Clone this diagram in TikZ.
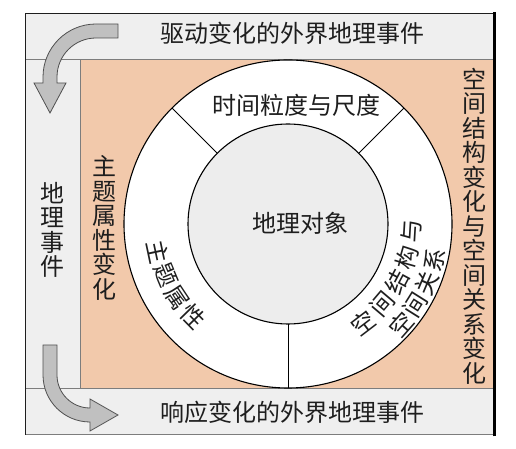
\documentclass[tikz,border=0pt]{standalone}
\usepackage{fontspec}
\setmainfont{Noto Sans CJK SC}
\usepackage{xcolor}
\usepackage{tikz}
\usetikzlibrary{calc}
\definecolor{bandGray}{RGB}{239,239,239}
\definecolor{coreGray}{RGB}{237,237,237}
\definecolor{ringPeach}{RGB}{242,201,171}
\definecolor{lineGray}{RGB}{125,125,125}
\definecolor{arrowGray}{RGB}{192,192,192}
\definecolor{arrowLine}{RGB}{80,80,80}
\definecolor{inkDark}{RGB}{30,30,30}

\tikzset{
  lbl/.style={text=inkDark, font=\fontsize{24}{24.5}\selectfont, inner sep=0pt},
  vlbl/.style={lbl, align=center},
  ringlbl/.style={text=inkDark, font=\fontsize{23.5}{23.5}\selectfont, inner sep=0pt},
  fatarrow/.style={fill=arrowGray, draw=arrowLine, line width=0.8pt},
}

\begin{document}
\begin{tikzpicture}[x=1pt,y=1pt]
\useasboundingbox (0,0) rectangle (516,449);

% frame, bands and peach field
\fill[bandGray] (25,14) rectangle (494,435);
\fill[ringPeach] (80,60) rectangle (494,389);
\draw[lineGray, line width=1pt] (25,389) -- (494,389);
\draw[lineGray, line width=1pt] (25,60) -- (494,60);
\draw[lineGray, line width=1pt] (80,60) -- (80,389);
\draw[lineGray, line width=1pt] (25,14) -- (494,14);
\draw[inkDark, line width=1pt] (25,14) -- (25,435) -- (494,435);
\draw[black, line width=3pt] (494,12.5) -- (494,436.5);

% ring and core
\coordinate (ctr) at (288,225);
\fill[white] (ctr) circle (164);
\draw[black, line width=1.1pt] (ctr) circle (164);
\foreach \a in {45,135,270}{
  \draw[black, line width=0.8pt] ($(ctr)+(\a:100)$) -- ($(ctr)+(\a:164)$);
}
\fill[coreGray] (ctr) circle (100);
\draw[black, line width=1.1pt] (ctr) circle (100);

% band texts
\node[lbl] (drive) at (292,416) {驱动变化的外界地理事件};
\node[lbl] (resp) at (292,37) {响应变化的外界地理事件};
\node[vlbl] (event) at (52,219) {地\\理\\事\\件};
\node[vlbl] (attrchg) at (104,221) {主\\题\\属\\性\\变\\化};
\node[vlbl] (spacechg) at (474,223) {空\\间\\结\\构\\变\\化\\与\\空\\间\\关\\系\\变\\化};

% ring texts
\node[lbl] (scale) at (296,344) {时间粒度与尺度};
\node[lbl] (obj) at (300,226) {地理对象};
\foreach \ch [count=\i from 0] in {主,题,属,性}{
  \pgfmathsetmacro\ang{192+10.8*\i}
  \node[ringlbl, rotate=\ang+90] (attr\i) at ($(ctr)+(\ang:133)$) {\ch};
}
\foreach \ch [count=\i from 0] in {空,间,结,构,与}{
  \pgfmathsetmacro\ang{-52.6+12.3*\i}
  \node[ringlbl, rotate=\ang+90] (strc\i) at ($(ctr)+(\ang:124)$) {\ch};
}
\foreach \ch [count=\i from 0] in {空,间,关,系}{
  \pgfmathsetmacro\ang{-41.5+9.3*\i}
  \node[ringlbl, rotate=\ang+90] (rel\i) at ($(ctr)+(\ang:151)$) {\ch};
}

% bent arrows
\draw[fatarrow] (118,425) -- (96,425) arc[start angle=90, end angle=180, radius=53]
  -- (43,366) -- (34,366) -- (50,336) -- (66,366) -- (57,366) -- (57,372)
  arc[start angle=180, end angle=90, radius=39] -- (118,411) -- cycle;
\draw[fatarrow] (43,104) -- (43,74) arc[start angle=180, end angle=270, radius=47]
  -- (90,18) -- (118,34) -- (90,50) -- (90,41)
  arc[start angle=270, end angle=180, radius=33] -- (57,104) -- cycle;
\end{tikzpicture}
\end{document}
